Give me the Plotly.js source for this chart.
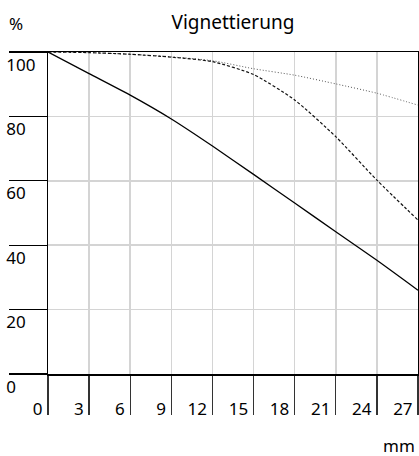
<!DOCTYPE html>
<html>
<head>
<meta charset="utf-8">
<script src="https://cdn.plot.ly/plotly-3.0.1.min.js"></script>
<style>html,body{margin:0;padding:0;background:#fff;}#chart{width:419px;height:456px;}</style>
</head>
<body>
<div id="chart"></div>
<script>
const xMM = [0, 3, 6, 9, 12, 15, 18, 21, 24, 27];
const solidSeries = [100, 93.3, 86.6, 79.2, 70.8, 62.0, 53.1, 44.2, 35.3, 26.0];
const dashedSeries = [100, 99.8, 99.3, 98.4, 97.0, 93.0, 85.1, 73.7, 60.2, 47.8];
const dottedSeries = [100, 99.8, 99.3, 98.5, 97.3, 94.8, 92.8, 90.1, 87.2, 83.5];
const xTicks = [0, 3, 6, 9, 12, 15, 18, 21, 24, 27];
const yTicks = [0, 20, 40, 60, 80, 100];
const titleText = "Vignettierung";
const yUnit = "%";
const xUnit = "mm";

const FONT = "Noto Sans, Roboto, sans-serif";

const traces = [
  {x: xMM, y: dottedSeries, mode: "lines", line: {color: "#555", width: 1, dash: "1px,2px", shape: "spline", smoothing: 0.6}, hoverinfo: "skip"},
  {x: xMM, y: dashedSeries, mode: "lines", line: {color: "#111", width: 1.2, dash: "3px,2px", shape: "spline", smoothing: 0.6}, hoverinfo: "skip"},
  {x: xMM, y: solidSeries, mode: "lines", line: {color: "#000", width: 1.3, shape: "spline", smoothing: 0.6}, hoverinfo: "skip"}
];

const layout = {
  width: 419, height: 456,
  margin: {l: 48, r: 1, t: 52, b: 82, pad: 0},
  paper_bgcolor: "#fff", plot_bgcolor: "#fff",
  showlegend: false,
  font: {family: FONT, size: 17, color: "#000"},
  title: {text: titleText, x: 0.556, xanchor: "center", y: 0.95, yanchor: "middle", font: {family: FONT, size: 19, color: "#000"}},
  xaxis: {
    range: [0, 27], tickvals: xTicks, ticktext: xTicks.map(String),
    ticks: "outside", ticklen: 39, tickwidth: 1.3, tickcolor: "#333",
    showline: true, mirror: true, linecolor: "#000", linewidth: 1.5,
    showgrid: true, gridcolor: "#d4d4d4", gridwidth: 1.5, zeroline: false,
    ticklabelposition: "outside left", ticklabelstandoff: 19, ticklabelshift: -4,
    tickfont: {family: FONT, size: 17, color: "#000"}, fixedrange: true
  },
  yaxis: {
    range: [0, 100], tickvals: yTicks, ticktext: yTicks.map(String),
    ticks: "outside", ticklen: 38, tickwidth: 1.3, tickcolor: "#000",
    showline: true, mirror: true, linecolor: "#000", linewidth: 1.5,
    showgrid: true, gridcolor: "#d4d4d4", gridwidth: 1.5, zeroline: false,
    ticklabelposition: "inside bottom", ticklabelstandoff: -42, ticklabeloverflow: "allow",
    tickfont: {family: FONT, size: 17, color: "#000"}, fixedrange: true
  },
  annotations: [
    {text: yUnit, xref: "paper", yref: "paper", x: -0.11, y: 1.087, xanchor: "left", yanchor: "middle", showarrow: false, font: {family: FONT, size: 17, color: "#000"}},
    {text: xUnit, xref: "paper", yref: "paper", x: 0.996, y: -0.222, xanchor: "right", yanchor: "middle", showarrow: false, font: {family: FONT, size: 17, color: "#000"}}
  ]
};

Plotly.newPlot("chart", traces, layout, {displayModeBar: false, staticPlot: true});
</script>
</body>
</html>
